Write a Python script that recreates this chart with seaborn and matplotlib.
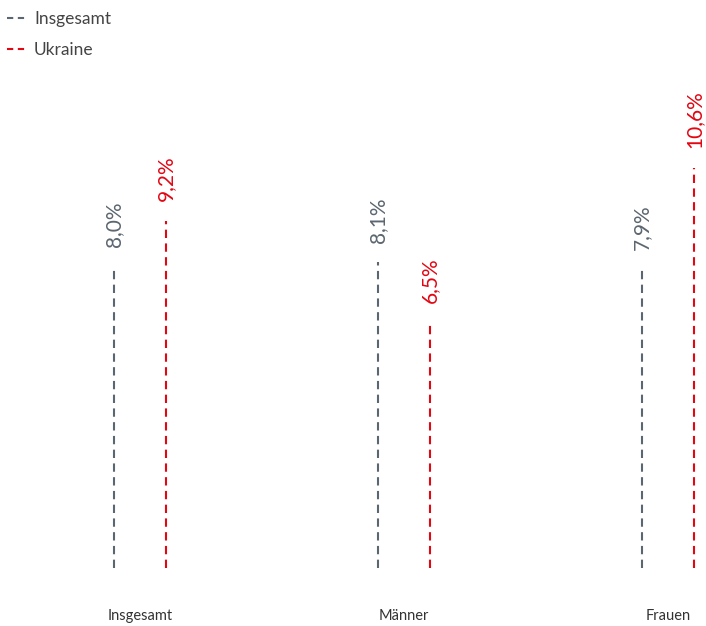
import matplotlib
matplotlib.use("Agg")
import matplotlib.pyplot as plt
import seaborn as sns
import numpy as np
from matplotlib.lines import Line2D

categories = ["Insgesamt", "Männer", "Frauen"]
series_names = ["Insgesamt", "Ukraine"]
insgesamt = [8.0, 8.1, 7.9]
ukraine = [9.2, 6.5, 10.6]
labels_insgesamt = ["8,0%", "8,1%", "7,9%"]
labels_ukraine = ["9,2%", "6,5%", "10,6%"]

sns.set_theme(style="white")
plt.rcParams["font.family"] = ["Lato", "DejaVu Sans"]

GRAY = "#5b6670"
RED = "#e30613"

fig = plt.figure(figsize=(7.06, 6.26), dpi=100)
ax = fig.add_axes([0, 58 / 626, 1, 568 / 626])

xs = np.arange(len(categories))
off = 0.1
dash = (0, (4, 2.6))
for vals, labs, color, sign in [(insgesamt, labels_insgesamt, GRAY, -1),
                                (ukraine, labels_ukraine, RED, 1)]:
    px = xs + sign * off
    ax.vlines(px, 0, vals, colors=color, linewidth=1.5, linestyles=dash)
    for x, v, t in zip(px, vals, labs):
        ax.annotate(t, (x, v), xytext=(0, 14), textcoords="offset points",
                    rotation=90, ha="center", va="bottom", color=color,
                    fontsize=15)

ax.set_xlim(-140 / 264, (706 - 140) / 264)
ax.set_ylim(0, 568 / 37.75)
ax.set_xticks(xs)
ax.set_xticklabels(categories, fontsize=10.5, color="#333333")
ax.tick_params(axis="x", length=0, pad=29.5)
ax.set_yticks([])
for s in ax.spines.values():
    s.set_visible(False)
ax.patch.set_alpha(0)

handles = [Line2D([0], [0], color=GRAY, linewidth=1.5, linestyle=(0, (3, 2.2))),
           Line2D([0], [0], color=RED, linewidth=1.5, linestyle=(0, (3, 2.2)))]
fig.legend(handles, series_names, loc="upper left", bbox_to_anchor=(-0.012, 1.007),
           frameon=False, fontsize=12.5, handlelength=1.1, handletextpad=0.45,
           labelspacing=0.85, labelcolor="#444444")

fig.savefig("out.png", dpi=100)
